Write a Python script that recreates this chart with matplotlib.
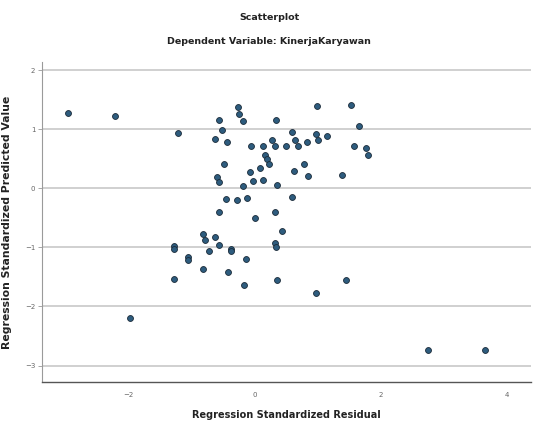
import matplotlib
matplotlib.use('Agg')
import matplotlib.pyplot as plt

# regression standardized residual (x) vs predicted value (y)
residual = [-2.96, -2.21, -1.21, -0.56, -0.51, -0.63, -0.44, -0.27, -0.24, -0.19,
            0.34, -0.06, 0.13, 0.27, 0.32, 0.17, 0.20, 0.23, -0.49, -0.08,
            0.08, -0.03, 0.14, -0.60, -0.56, -0.18, 0.35, -0.46, -0.28, -0.12,
            -0.57, 0.00, 0.33, 0.99, 1.52, 1.65, 0.59, 0.64, 0.97, 1.00,
            1.15, 0.83, 0.49, 0.68, 1.58, 1.76, 1.80, 0.78, 0.63, 0.84,
            1.38, 0.60, -0.82, -0.78, -0.62, -0.57, -0.72, -1.28, -1.28, -1.05,
            -1.05, -0.37, -0.37, -0.13, 0.32, 0.34, 0.43, -0.81, -1.28, -0.42,
            -0.16, 0.35, -1.97, 0.97, 1.44, 2.74, 3.65]
predicted = [1.27, 1.22, 0.93, 1.15, 0.98, 0.84, 0.78, 1.38, 1.26, 1.13,
             1.15, 0.72, 0.71, 0.82, 0.71, 0.57, 0.49, 0.41, 0.41, 0.27,
             0.35, 0.13, 0.14, 0.19, 0.10, 0.03, 0.05, -0.18, -0.20, -0.17,
             -0.41, -0.51, -0.41, 1.39, 1.41, 1.05, 0.96, 0.82, 0.92, 0.81,
             0.88, 0.79, 0.71, 0.71, 0.71, 0.68, 0.57, 0.41, 0.29, 0.21,
             0.23, -0.15, -0.77, -0.88, -0.82, -0.96, -1.07, -0.98, -1.02, -1.16,
             -1.21, -1.02, -1.07, -1.19, -0.93, -0.99, -0.73, -1.36, -1.53, -1.41,
             -1.63, -1.56, -2.19, -1.77, -1.55, -2.73, -2.74]
xticks = [-2, 0, 2, 4]
yticks = [-3, -2, -1, 0, 1, 2]

plt.rcParams['font.family'] = ['DejaVu Sans']

fig = plt.figure(figsize=(5.35, 4.26), dpi=100)
ax = fig.add_axes([0.079, 0.103, 0.913, 0.752])

for yt in yticks:
    ax.axhline(yt, color='#c8c8c8', lw=1.2, zorder=1)

ax.scatter(residual, predicted, s=18, c='#2e5c7e', edgecolors='#1a2a38',
           linewidths=0.6, zorder=3)

ax.set_xlim(-3.36, 4.37)
ax.set_ylim(-3.28, 2.14)
ax.set_xticks(xticks)
ax.set_yticks(yticks)
ax.tick_params(axis='x', length=0, labelsize=5, colors='#666666', pad=7)
ax.tick_params(axis='y', length=3, width=0.6, labelsize=5, colors='#666666', pad=2)
ax.tick_params(axis='y', color='#999999')

for side in ['top', 'right']:
    ax.spines[side].set_visible(False)
ax.spines['left'].set_color('#9a9a9a')
ax.spines['left'].set_linewidth(0.8)
ax.spines['bottom'].set_color('#555555')
ax.spines['bottom'].set_linewidth(1.0)

ax.set_xlabel('Regression Standardized Residual', fontsize=7, fontweight='bold',
              color='#222222', labelpad=9)
ax.set_ylabel('Regression Standardized Predicted Value', fontsize=7.8,
              fontweight='bold', color='#222222', labelpad=9)

fig.text(0.503, 0.96, 'Scatterplot', ha='center', va='center', fontsize=6.8,
         fontweight='bold', color='#222222')
fig.text(0.503, 0.902, 'Dependent Variable: KinerjaKaryawan', ha='center',
         va='center', fontsize=6.8, fontweight='bold', color='#222222')

plt.savefig('out.png', dpi=100)
plt.close()
